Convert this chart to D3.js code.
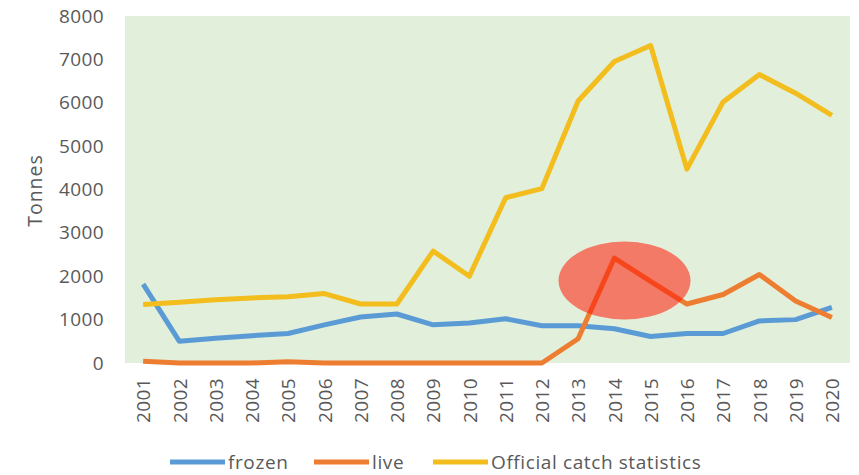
<!DOCTYPE html>
<html>
<head>
<meta charset="utf-8">
<script src="https://cdn.jsdelivr.net/npm/d3@7"></script>
<style>
  body { margin: 0; background: #fff; }
  text { font-family: "Open Sans", "DejaVu Sans", sans-serif; fill: #595959; }
</style>
</head>
<body>
<svg id="chart" width="859" height="475"></svg>
<script>
const years    = d3.range(2001, 2021).map(String);
const frozen   = [1820, 500, 570, 630, 680, 880, 1060, 1130, 880, 920, 1020, 860, 860, 790, 610, 680, 680, 970, 1000, 1280];
const live     = [40, 0, 0, 0, 30, 0, 0, 0, 0, 0, 0, 0, 560, 2420, 1880, 1360, 1580, 2040, 1430, 1050];
const official = [1350, 1400, 1460, 1500, 1530, 1600, 1360, 1360, 2580, 2000, 3810, 4020, 6040, 6950, 7320, 4470, 6020, 6650, 6220, 5710];
const yTicks   = [0, 1000, 2000, 3000, 4000, 5000, 6000, 7000, 8000];

const series = [
  { name: 'frozen', values: frozen, color: '#5b9bd5' },
  { name: 'live', values: live, color: '#ed7d31' },
  { name: 'Official catch statistics', values: official, color: '#f2bd1d' }
];

// plot area
const LEFT = 125, RIGHT = 850, TOP = 16, BOTTOM = 363;
const FONT = '"Open Sans", "DejaVu Sans", sans-serif';

const svg = d3.select('#chart');

const x = d3.scalePoint().domain(years).range([LEFT, RIGHT]).padding(0.5);
const y = d3.scaleLinear().domain([0, 8000]).range([BOTTOM, TOP]);

svg.append('rect')
  .attr('x', LEFT).attr('y', TOP)
  .attr('width', RIGHT - LEFT).attr('height', BOTTOM - TOP)
  .attr('fill', '#e2efda');

// y axis labels
const yAxis = svg.append('g')
  .attr('transform', `translate(${LEFT - 21},0)`)
  .call(d3.axisLeft(y).tickValues(yTicks).tickFormat(d3.format('d')).tickSize(0).tickPadding(0));
yAxis.select('.domain').remove();
yAxis.selectAll('text')
  .attr('font-size', 19)
  .attr('letter-spacing', 0.4)
  .attr('fill', '#595959')
  .style('font-family', FONT);

svg.append('text')
  .attr('transform', `translate(42,${(TOP + BOTTOM) / 2 + 1}) rotate(-90)`)
  .attr('text-anchor', 'middle')
  .attr('font-size', 19.5)
  .attr('letter-spacing', 1)
  .style('font-family', FONT)
  .text('Tonnes');

// x axis labels
const xAxis = svg.append('g')
  .attr('transform', `translate(0,${BOTTOM + 15})`)
  .call(d3.axisBottom(x).tickSize(0).tickPadding(0));
xAxis.select('.domain').remove();
xAxis.selectAll('text')
  .attr('transform', 'rotate(-90)')
  .attr('text-anchor', 'end')
  .attr('x', 0).attr('y', 0).attr('dy', '0.35em')
  .attr('font-size', 19)
  .attr('letter-spacing', 0.4)
  .attr('fill', '#595959')
  .style('font-family', FONT);

const line = d3.line()
  .x((d, i) => x(years[i]))
  .y(d => y(d));

svg.selectAll('.series')
  .data(series)
  .enter().append('path')
    .attr('class', 'series')
    .attr('d', d => line(d.values))
    .attr('fill', 'none')
    .attr('stroke', d => d.color)
    .attr('stroke-width', 5)
    .attr('stroke-linejoin', 'round');

// highlight of the 2014 peak
svg.append('ellipse')
  .attr('cx', (x('2014') + x('2015')) / 2 - 8)
  .attr('cy', y(1900))
  .attr('rx', 66).attr('ry', 39)
  .attr('fill', '#ff1a0a')
  .attr('opacity', 0.55);

// legend
const legendX = [170, 314, 433];
const legend = svg.selectAll('.legend')
  .data(series)
  .enter().append('g')
    .attr('class', 'legend')
    .attr('transform', (d, i) => `translate(${legendX[i]},462)`);
legend.append('line')
  .attr('x1', 0).attr('x2', 55)
  .attr('stroke', d => d.color)
  .attr('stroke-width', 5);
legend.append('text')
  .attr('x', 58).attr('dy', '0.35em')
  .attr('font-size', 19)
  .attr('letter-spacing', 0.6)
  .style('font-family', FONT)
  .text(d => d.name);
</script>
</body>
</html>
